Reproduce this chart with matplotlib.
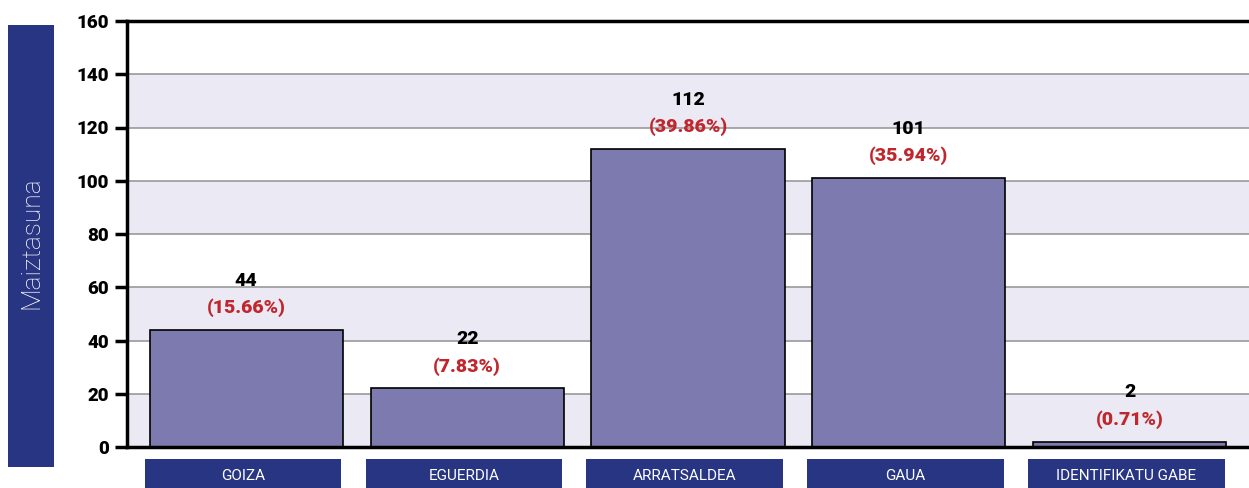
import matplotlib.pyplot as plt
from matplotlib.patches import Rectangle
import matplotlib.transforms as mtransforms

# -----------------------------
# Data
# -----------------------------
categories = ["GOIZA", "EGUERDIA", "ARRATSALDEA", "GAUA", "IDENTIFIKATU GABE"]
counts = [44, 22, 112, 101, 2]
percents = ["15.66%", "7.83%", "39.86%", "35.94%", "0.71%"]
y_ticks = [0, 20, 40, 60, 80, 100, 120, 140, 160]
y_label = "Maiztasuna"

# -----------------------------
# Styling
# -----------------------------
NAVY = "#283583"
BAR = "#7d7ab0"
BAND = "#ebe9f4"
RED = "#c0272d"
plt.rcParams["font.family"] = ["Roboto", "DejaVu Sans"]

fig = plt.figure(figsize=(12.49, 4.88), dpi=100)
ax = fig.add_axes([127 / 1249, 41 / 488, 1 - 127 / 1249, 426 / 488])

x = list(range(len(categories)))

# alternating bands
for lo in y_ticks[:-1]:
    if (lo // 20) % 2 == 0:
        ax.axhspan(lo, lo + 20, color=BAND, zorder=0, lw=0)
for t in y_ticks[1:-1]:
    ax.axhline(t, color="#9a9a9a", lw=1.2, zorder=1)

ax.bar(x, counts, width=0.875, color=BAR, edgecolor="black", lw=1.2, zorder=2)

for xi, c, p in zip(x, counts, percents):
    ax.text(xi, c + 18.5, str(c), ha="center", va="center",
            fontsize=14, fontweight="black", color="black", zorder=3)
    ax.text(xi, c + 8.3, f"({p})", ha="center", va="center",
            fontsize=14, fontweight="black", color=RED, zorder=3)

ax.set_xlim(-0.54, 4.54)
ax.set_ylim(0, 160)
ax.set_yticks(y_ticks)
ax.set_yticklabels([str(t) for t in y_ticks], fontsize=13.5, fontweight="black")
ax.set_xticks([])
ax.tick_params(axis="y", length=9, width=2.5, pad=4)

for side in ["left", "bottom", "top"]:
    ax.spines[side].set_linewidth(2.5)
    ax.spines[side].set_color("black")
ax.spines["right"].set_visible(False)

# category boxes under the axis
trans = mtransforms.blended_transform_factory(ax.transData, ax.transAxes)
for xi, name in zip(x, categories):
    ax.add_patch(Rectangle((xi - 0.46, -0.105), 0.89, 0.077, transform=trans,
                           facecolor=NAVY, edgecolor="none", clip_on=False))
    ax.text(xi - 0.015, -0.068, name, transform=trans, ha="center", va="center",
            color="white", fontsize=11)

# y label box
fig.patches.append(Rectangle((8 / 1249, 21 / 488), 46 / 1249, 442 / 488,
                             transform=fig.transFigure, facecolor=NAVY,
                             edgecolor="none"))
fig.text(31 / 1249, 245 / 488, y_label, rotation=90, ha="center", va="center",
         color="white", fontsize=19, fontweight="light")

fig.savefig("out.png", dpi=100)
